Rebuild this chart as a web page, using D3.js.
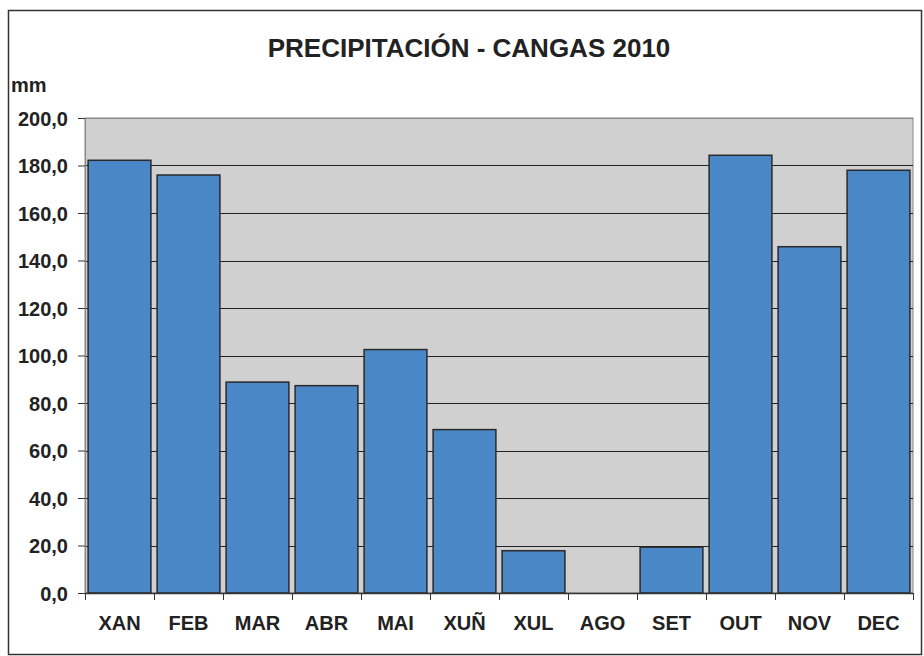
<!DOCTYPE html>
<html>
<head>
<meta charset="utf-8">
<script src="https://cdn.jsdelivr.net/npm/d3@7"></script>
<style>
body { margin: 0; background: #fff; }
text { font-family: "Liberation Sans", Arial, sans-serif; font-weight: bold; fill: #222; }
</style>
</head>
<body>
<script>
// monthly values
let months = ["XAN", "FEB", "MAR", "ABR", "MAI", "XUÑ", "XUL", "AGO", "SET", "OUT", "NOV", "DEC"];
let rain = [182.2, 176.0, 88.8, 87.3, 102.5, 68.8, 17.8, 0, 19.3, 184.3, 145.8, 178.0];
let yTicks = [0, 20, 40, 60, 80, 100, 120, 140, 160, 180, 200];

let svg = d3.select("body").append("svg")
	.attr("width", 924)
	.attr("height", 656);

let margin = { top: 118, right: 11, bottom: 63, left: 85 };
let innerWidth = 924 - margin.left - margin.right;
let innerHeight = 656 - margin.top - margin.bottom;

// outer frame
svg.append("rect")
	.attr("x", 8.5).attr("y", 10.5)
	.attr("width", 913).attr("height", 644)
	.attr("fill", "#fff")
	.attr("stroke", "#333")
	.attr("stroke-width", 1.5);

svg.append("text")
	.attr("x", 469).attr("y", 57)
	.attr("text-anchor", "middle")
	.attr("font-size", 26)
	.text("PRECIPITACIÓN - CANGAS 2010");

svg.append("text")
	.attr("x", 11).attr("y", 92)
	.attr("font-size", 20)
	.text("mm");

let g = svg.append("g")
	.attr("transform", `translate(${margin.left}, ${margin.top})`);

let x = d3.scaleBand()
	.domain(months)
	.range([0, innerWidth])
	.paddingInner(0.09)
	.paddingOuter(0.045);

let y = d3.scaleLinear()
	.domain([0, 200])
	.range([innerHeight, 0]);

g.append("rect")
	.attr("width", innerWidth)
	.attr("height", innerHeight)
	.attr("fill", "#d0d0d0")
	.attr("stroke", "#888");

// gridlines
g.selectAll(".grid")
	.data(yTicks.filter(d => d > 0))
	.enter().append("line")
	.attr("x1", 0).attr("x2", innerWidth)
	.attr("y1", d => Math.round(y(d)) + 0.5)
	.attr("y2", d => Math.round(y(d)) + 0.5)
	.attr("stroke", d => d === 200 ? "#888" : "#222")
	.attr("stroke-width", 1);

g.selectAll(".bar")
	.data(months)
	.enter().append("rect")
	.attr("x", d => x(d))
	.attr("y", (d, i) => y(rain[i]))
	.attr("width", x.bandwidth())
	.attr("height", (d, i) => innerHeight - y(rain[i]))
	.attr("fill", "#4a87c7")
	.attr("stroke", "#2a2a2a")
	.attr("stroke-width", 1.5)
	.attr("display", (d, i) => rain[i] > 0 ? null : "none");

let yAxis = d3.axisLeft(y)
	.tickValues(yTicks)
	.tickSize(7)
	.tickPadding(10)
	.tickFormat(d => d3.format(".1f")(d).replace(".", ","));

let yG = g.append("g").call(yAxis);
yG.selectAll("text").attr("font-size", 20).attr("fill", "#222").attr("dy", "0.35em");
yG.selectAll("line").attr("stroke", "#333");
yG.select(".domain").attr("stroke", "#888").attr("d", `M0.5,0V${innerHeight}`);

let step = innerWidth / 12;
let xAxis = d3.axisBottom(x).tickSize(0).tickPadding(23);
let xG = g.append("g")
	.attr("transform", `translate(0, ${innerHeight})`)
	.call(xAxis);
xG.selectAll("text").attr("font-size", 20).attr("fill", "#222");
xG.select(".domain").attr("stroke", "#333").attr("stroke-width", 1.5).attr("d", `M0,0.5H${innerWidth}`);

// category separator ticks below the axis
xG.selectAll(".sep")
	.data(d3.range(13))
	.enter().append("line")
	.attr("x1", d => Math.round(d * step) + 0.5)
	.attr("x2", d => Math.round(d * step) + 0.5)
	.attr("y1", 0).attr("y2", 7)
	.attr("stroke", "#333");
</script>
</body>
</html>
